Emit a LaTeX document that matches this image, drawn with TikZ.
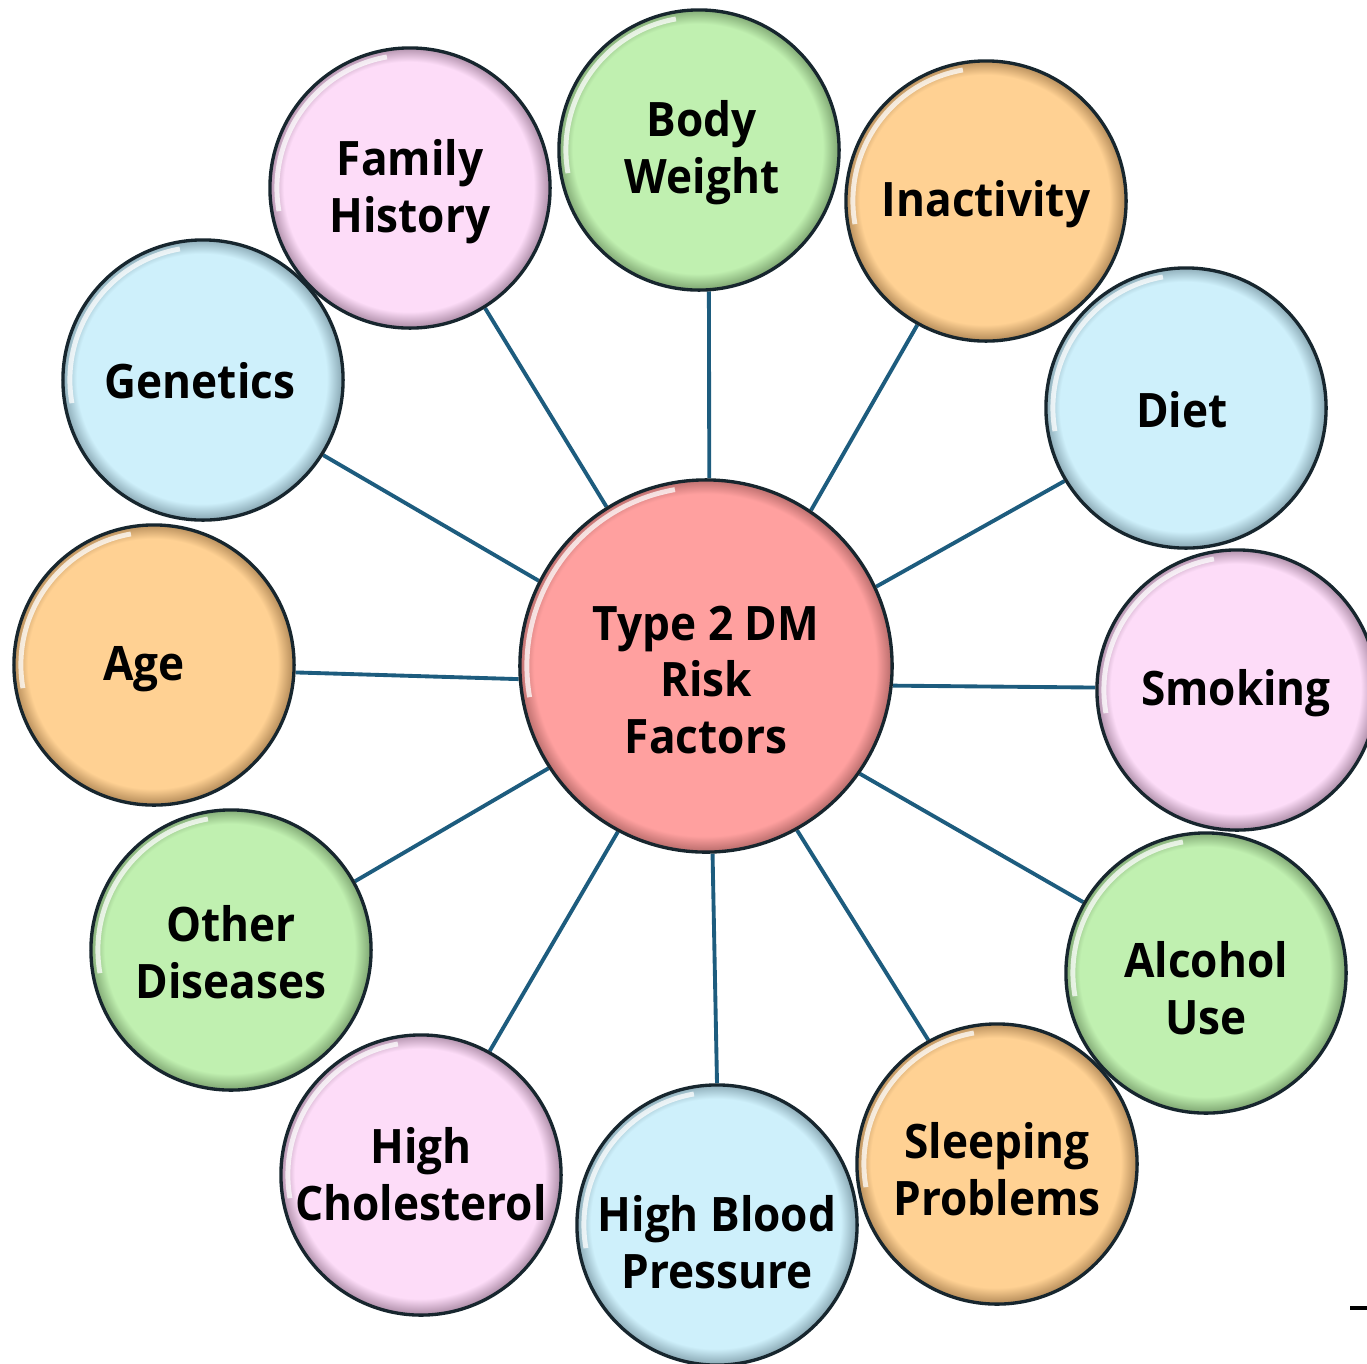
\documentclass[tikz,border=0pt]{standalone}
\usepackage{fontspec}
\setmainfont{Open Sans}[FakeStretch=0.93]
\usetikzlibrary{backgrounds}
\definecolor{pinkc}{HTML}{FDDCF8}\definecolor{pinkd}{HTML}{A0809A}
\definecolor{greenc}{HTML}{C0F0B0}\definecolor{greend}{HTML}{749A68}
\definecolor{orangec}{HTML}{FFD193}\definecolor{oranged}{HTML}{A88050}
\definecolor{bluec}{HTML}{CEF0FB}\definecolor{blued}{HTML}{7E9CA8}
\definecolor{redc}{HTML}{FFA09F}\definecolor{redd}{HTML}{A8605F}
\definecolor{edgec}{HTML}{17262E}
\definecolor{linkc}{HTML}{1D5C7E}
\pgfdeclareradialshading{pinkball}{\pgfpoint{-0.9bp}{0.9bp}}{color(0bp)=(pinkc);color(22.3bp)=(pinkc);color(25.5bp)=(pinkd);color(30bp)=(pinkd)}
\pgfdeclareradialshading{greenball}{\pgfpoint{-0.9bp}{0.9bp}}{color(0bp)=(greenc);color(22.3bp)=(greenc);color(25.5bp)=(greend);color(30bp)=(greend)}
\pgfdeclareradialshading{orangeball}{\pgfpoint{-0.9bp}{0.9bp}}{color(0bp)=(orangec);color(22.3bp)=(orangec);color(25.5bp)=(oranged);color(30bp)=(oranged)}
\pgfdeclareradialshading{blueball}{\pgfpoint{-0.9bp}{0.9bp}}{color(0bp)=(bluec);color(22.3bp)=(bluec);color(25.5bp)=(blued);color(30bp)=(blued)}
\pgfdeclareradialshading{redball}{\pgfpoint{-0.6bp}{0.6bp}}{color(0bp)=(redc);color(23bp)=(redc);color(25.5bp)=(redd);color(30bp)=(redd)}
\begin{document}
\begin{tikzpicture}[x=0.01cm,y=-0.01cm,
  ball/.style={circle,draw=edgec,line width=0.95pt,minimum size=2.80cm,inner sep=0pt,
    path picture={\draw[white,opacity=0.75,line width=1.4pt]
      ([shift={(100:#1)}]path picture bounding box.center) arc[start angle=100,end angle=190,radius=#1];}},
  ball/.default=1.33cm,
  pinkb/.style={ball,shading=pinkball},
  greenb/.style={ball,shading=greenball},
  orangeb/.style={ball,shading=orangeball},
  blueb/.style={ball,shading=blueball},
  redb/.style={ball=1.79cm,shading=redball,minimum size=3.72cm},
  lbl/.style={align=center,font=\fontsize{13.5}{16.2}\selectfont\bfseries,text=black},
  link/.style={draw=linkc,line width=1.1pt}]
\useasboundingbox (0,0) rectangle (1367,1363);
\clip (0,0) rectangle (1367,1363);
\node[redb] (c) at (706,666) {};
\node[greenb] (bw) at (699,150) {};
\node[pinkb] (fh) at (410,188) {};
\node[orangeb] (in) at (986,201) {};
\node[blueb] (ge) at (203,380) {};
\node[blueb] (di) at (1186,408) {};
\node[orangeb] (ag) at (154,665) {};
\node[pinkb] (sm) at (1237,690) {};
\node[greenb] (od) at (231,950) {};
\node[greenb] (al) at (1206,973) {};
\node[pinkb] (hc) at (421,1175) {};
\node[blueb] (hb) at (717,1225) {};
\node[orangeb] (sp) at (997,1164) {};
\begin{scope}[on background layer]
\draw[link] (c.89) -- (bw.-86);
\draw[link] (c.122.6) -- (fh.-58.4);
\draw[link] (c.56.3) -- (in.-119.8);
\draw[link] (c.153) -- (ge.-32.6);
\draw[link] (c.25.6) -- (di.-149.7);
\draw[link] (c.184.3) -- (ag.-3.2);
\draw[link] (c.-6.7) -- (sm.179.6);
\draw[link] (c.213.7) -- (od.29.4);
\draw[link] (c.-35.5) -- (al.150.4);
\draw[link] (c.242.8) -- (hc.61.1);
\draw[link] (c.-88.2) -- (hb.90.4);
\draw[link] (c.-61) -- (sp.119);
\end{scope}
\node[lbl] (ct) at (706,680) {Type 2 DM\\Risk\\Factors};
\node[lbl] (bwt) at (702,153) {Body\\Weight};
\node[lbl] (fht) at (410,192) {Family\\History};
\node[lbl] (int) at (986,204) {Inactivity};
\node[lbl] (get) at (200,381) {Genetics};
\node[lbl] (dit) at (1182,410) {Diet};
\node[lbl] (agt) at (144,669) {Age};
\node[lbl] (smt) at (1236,693) {Smoking};
\node[lbl] (odt) at (231,952) {Other\\Diseases};
\node[lbl] (alt) at (1206,988) {Alcohol\\Use};
\node[lbl] (hct) at (421,1174) {High\\Cholesterol};
\node[lbl] (hbt) at (717,1242) {High Blood\\Pressure};
\node[lbl] (spt) at (997,1169) {Sleeping\\Problems};
\coordinate (d1) at (1350,1308);
\coordinate (d2) at (1367,1308);
\draw[line width=1.2pt] (d1) -- (d2);
\end{tikzpicture}
\end{document}
